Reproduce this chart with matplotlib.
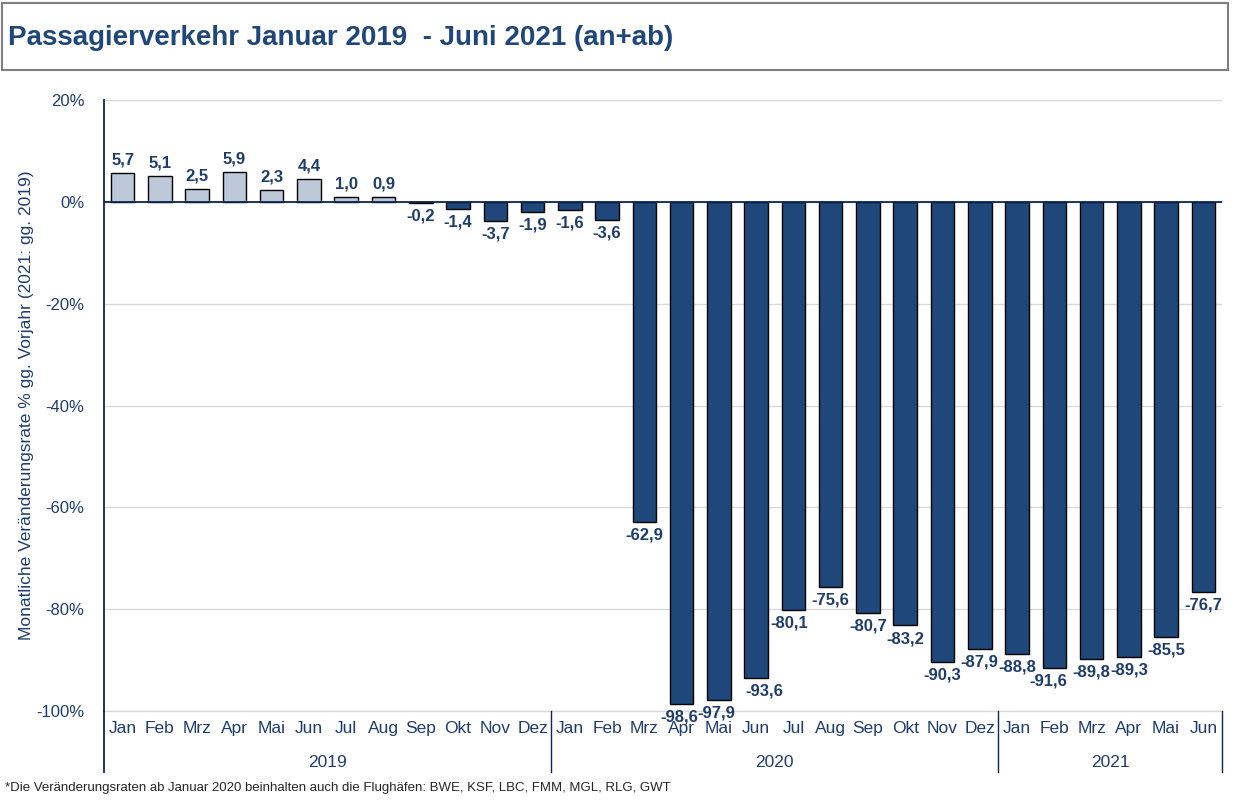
import matplotlib
matplotlib.use('Agg')
import matplotlib.pyplot as plt
import matplotlib.patches as mpatches
import matplotlib.transforms as mtransforms

plt.rcParams['font.family'] = ['Liberation Sans', 'DejaVu Sans']

months = ['Jan', 'Feb', 'Mrz', 'Apr', 'Mai', 'Jun', 'Jul', 'Aug', 'Sep', 'Okt', 'Nov', 'Dez',
          'Jan', 'Feb', 'Mrz', 'Apr', 'Mai', 'Jun', 'Jul', 'Aug', 'Sep', 'Okt', 'Nov', 'Dez',
          'Jan', 'Feb', 'Mrz', 'Apr', 'Mai', 'Jun']
years = ['2019', '2020', '2021']
year_counts = [12, 12, 6]
values = [5.7, 5.1, 2.5, 5.9, 2.3, 4.4, 1.0, 0.9, -0.2, -1.4, -3.7, -1.9,
          -1.6, -3.6, -62.9, -98.6, -97.9, -93.6, -80.1, -75.6, -80.7, -83.2, -90.3, -87.9,
          -88.8, -91.6, -89.8, -89.3, -85.5, -76.7]
yticks = [20, 0, -20, -40, -60, -80, -100]

title = 'Passagierverkehr Januar 2019  - Juni 2021 (an+ab)'
ylabel = 'Monatliche Veränderungsrate % gg. Vorjahr (2021: gg. 2019)'
footnote = '*Die Veränderungsraten ab Januar 2020 beinhalten auch die Flughäfen: BWE, KSF, LBC, FMM, MGL, RLG, GWT'

dark = '#1F4779'
light = '#BDC9D8'
text_col = '#1F3D6C'
navy = '#0E2556'

# a few label nudges (in points) like in the original
label_dx = {15: -2, 16: -2, 17: 6, 18: -3, 25: -4}

fig = plt.figure(figsize=(12.4, 8.06), dpi=100)
W, H = 1240, 806
ax = fig.add_axes([104 / W, 1 - 711 / H, (1222 - 104) / W, (711 - 100) / H])

x = list(range(len(values)))
colors = [light if v > 0 else dark for v in values]
ax.bar(x, values, width=0.63, color=colors, edgecolor='black', linewidth=1.0, zorder=3)

for i, v in enumerate(values):
    lab = ('%.1f' % v).replace('.', ',')
    dx = label_dx.get(i, 0)
    if v > 0:
        ax.annotate(lab, (i, v), xytext=(dx, 4), textcoords='offset points',
                    ha='center', va='bottom', fontsize=12, fontweight='bold', color=text_col, zorder=4)
    else:
        ax.annotate(lab, (i, v), xytext=(dx, -4), textcoords='offset points',
                    ha='center', va='top', fontsize=12, fontweight='bold', color=text_col, zorder=4)

ax.set_xlim(-0.5, len(values) - 0.5)
ax.set_ylim(-100, 20)
ax.set_yticks(yticks)
ax.set_yticklabels(['%d%%' % t for t in yticks])
ax.yaxis.grid(True, color='#D9D9D9', linewidth=1.0, zorder=0)
ax.set_axisbelow(True)
ax.axhline(-100, color='#D9D9D9', linewidth=1.0, zorder=0, clip_on=False)
ax.axhline(0, color=navy, linewidth=1.3, zorder=3.5)

ax.set_xticks(x)
ax.set_xticklabels(months)
ax.tick_params(axis='x', length=0, pad=7, labelsize=12.5, labelcolor=text_col)
ax.tick_params(axis='y', length=0, pad=14, labelsize=12, labelcolor=text_col)

for s in ['top', 'right', 'bottom']:
    ax.spines[s].set_visible(False)
ax.spines['left'].set_color(navy)
ax.spines['left'].set_linewidth(1.3)

ax.set_ylabel(ylabel, fontsize=12.5, color=text_col, labelpad=2)

# year groups below the month labels
trans = mtransforms.blended_transform_factory(ax.transData, ax.transAxes)
start = -0.5
ax.plot([start, start], [0, -0.1], color=navy, lw=1.3, transform=trans, clip_on=False)
for yr, n in zip(years, year_counts):
    end = start + n
    ax.plot([end, end], [0, -0.1], color=navy, lw=1.0, transform=trans, clip_on=False)
    ax.text((start + end) / 2, -0.084, yr, transform=trans, ha='center', va='center',
            fontsize=12.5, color=text_col)
    start = end

# title box
fig.patches.append(mpatches.Rectangle((2 / W, 1 - 70 / H), 1226 / W, 67 / H,
                                      transform=fig.transFigure, fill=False,
                                      edgecolor='#7F7F7F', linewidth=1.5))
fig.text(8 / W, 1 - 38 / H, title, ha='left', va='center', fontsize=20,
         fontweight='bold', color='#1F4779')

fig.text(5 / W, 1 - 788 / H, footnote, ha='left', va='center', fontsize=9.5, color='#262626')

fig.savefig('out.png', dpi=100)
